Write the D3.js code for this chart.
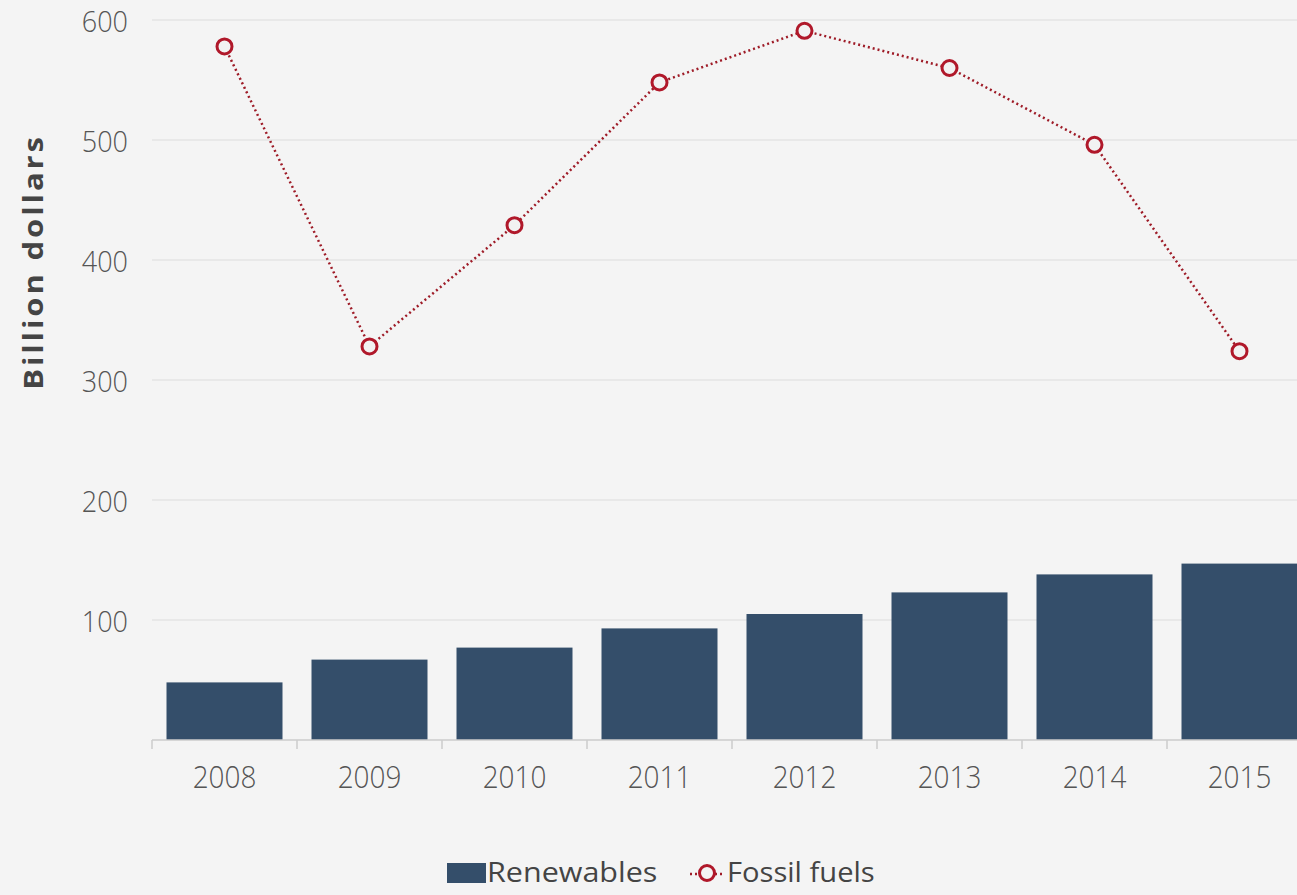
<!DOCTYPE html>
<html><head><meta charset="utf-8">
<script src="https://cdn.jsdelivr.net/npm/d3@7"></script>
<style>
html,body{margin:0;padding:0;background:#f4f4f4;}
svg{display:block;}
text{font-family:"Open Sans",sans-serif;}
</style></head>
<body><svg id="c" width="1297" height="895"></svg>
<script>
const years = ["2008","2009","2010","2011","2012","2013","2014","2015"];
const renewables = [48, 67, 77, 93, 105, 123, 138, 147];
const fossil = [578, 328, 429, 548, 591, 560, 496, 324];
const yTicks = [100, 200, 300, 400, 500, 600];

const svg = d3.select("#c");
const x = d3.scaleBand().domain(years).range([152, 1312]).paddingInner(0.2).paddingOuter(0.1);
const y = d3.scaleLinear().domain([0, 600]).range([740, 20]);

// grid
svg.append("g").selectAll("line").data(yTicks).join("line")
  .attr("x1", 152).attr("x2", 1297)
  .attr("y1", d => y(d)).attr("y2", d => y(d))
  .attr("stroke", "#e4e4e4").attr("stroke-width", 1.5);

// y labels
svg.append("g").selectAll("text").data(yTicks).join("text")
  .attr("transform", d => `translate(128,${y(d)}) scale(0.9,1)`)
  .attr("dy", "0.41em")
  .attr("text-anchor", "end").attr("font-size", 30).attr("font-weight", 300)
  .attr("font-family", "Lato")
  .attr("fill", "#555").text(d => d);

// y title
svg.append("text").attr("transform", "translate(43,262) rotate(-90) scale(1.15,1)")
  .attr("text-anchor", "middle").attr("font-size", 27).attr("font-weight", 700)
  .attr("font-family", "DejaVu Sans").attr("letter-spacing", "2.5px")
  .attr("fill", "#444").text("Billion dollars");

// bars
svg.append("g").selectAll("rect").data(years).join("rect")
  .attr("x", d => x(d)).attr("width", x.bandwidth())
  .attr("y", (d,i) => y(renewables[i])).attr("height", (d,i) => y(0) - y(renewables[i]))
  .attr("fill", "#344e6a");

// x axis
const step = x.step();
svg.append("line").attr("x1", 152).attr("x2", 1297).attr("y1", y(0)).attr("y2", y(0))
  .attr("stroke", "#ccc").attr("stroke-width", 1.5);
svg.append("g").selectAll("line").data(years).join("line")
  .attr("x1", d => x(d) - step*0.1).attr("x2", d => x(d) - step*0.1)
  .attr("y1", y(0)).attr("y2", y(0) + 9)
  .attr("stroke", "#ccc").attr("stroke-width", 1.5);
svg.append("g").selectAll("text").data(years).join("text")
  .attr("transform", d => `translate(${x(d) + x.bandwidth()/2},777) scale(0.9,1)`)
  .attr("dy", "0.36em")
  .attr("text-anchor", "middle").attr("font-size", 31).attr("font-weight", 300)
  .attr("font-family", "Lato")
  .attr("fill", "#555").text(d => d);

// line
const line = d3.line().x((d,i) => x(years[i]) + x.bandwidth()/2).y(d => y(d));
svg.append("path").datum(fossil).attr("d", line)
  .attr("fill", "none").attr("stroke", "#9e1b27").attr("stroke-width", 2.5)
  .attr("stroke-dasharray", "2,3");
svg.append("g").selectAll("circle").data(fossil).join("circle")
  .attr("cx", (d,i) => x(years[i]) + x.bandwidth()/2).attr("cy", d => y(d))
  .attr("r", 7.5).attr("fill", "#f2f2f2").attr("stroke", "#b0182a").attr("stroke-width", 3);

// legend
const lg = svg.append("g");
lg.append("rect").attr("x", 447).attr("y", 863).attr("width", 39).attr("height", 20).attr("fill", "#344e6a");
lg.append("text").attr("transform", "translate(487,882) scale(1.09,1)").attr("font-size", 28)
  .attr("fill", "#444").text("Renewables");
lg.append("line").attr("x1", 690).attr("x2", 724).attr("y1", 874).attr("y2", 874)
  .attr("stroke", "#9e1b27").attr("stroke-width", 2.5).attr("stroke-dasharray", "2,3");
lg.append("circle").attr("cx", 707).attr("cy", 873).attr("r", 7.5).attr("fill", "#f4f4f4")
  .attr("stroke", "#b0182a").attr("stroke-width", 3);
lg.append("text").attr("transform", "translate(727,882) scale(1.04,1)").attr("font-size", 28)
  .attr("fill", "#444").text("Fossil fuels");
</script></body></html>
